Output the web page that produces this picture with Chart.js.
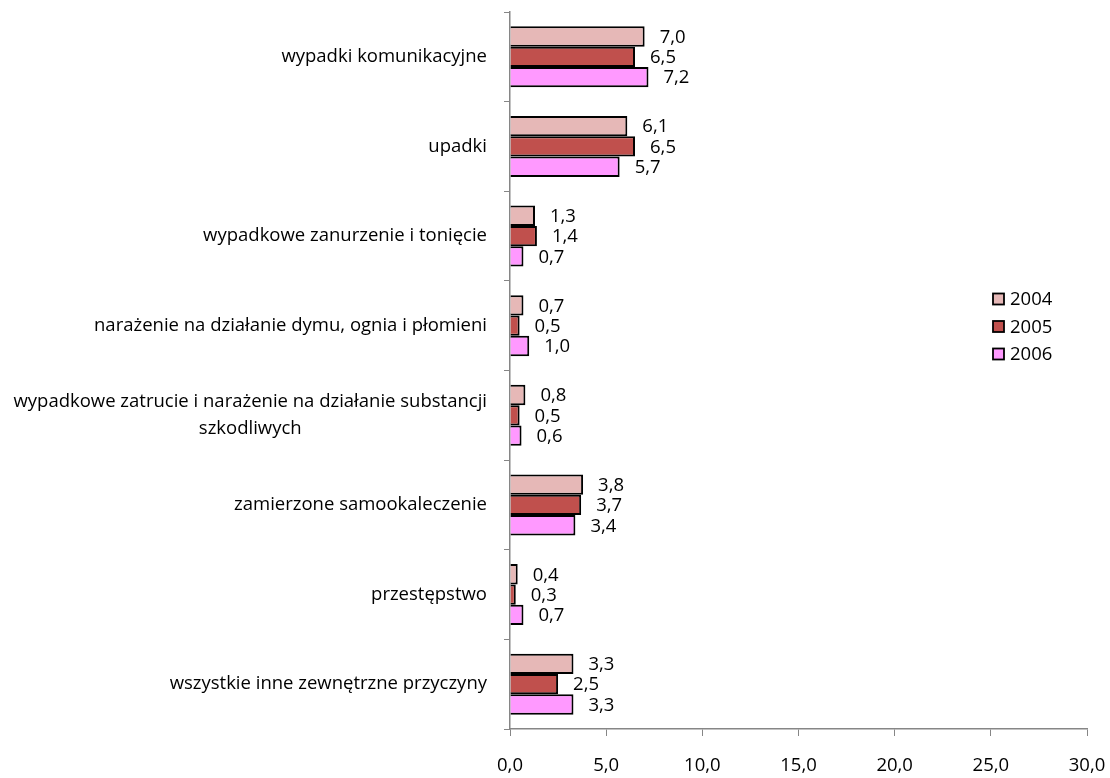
<!DOCTYPE html>
<html>
<head>
<meta charset="utf-8">
<script src="https://cdn.jsdelivr.net/npm/chart.js@4/dist/chart.umd.min.js"></script>
<style>
  body { margin: 0; background: #fff; }
  #wrap { width: 1110px; height: 778px; }
</style>
</head>
<body>
<div id="wrap"><canvas id="c" width="1110" height="778"></canvas></div>
<script>
// categories (top to bottom)
const causes = [
  "wypadki komunikacyjne",
  "upadki",
  "wypadkowe zanurzenie i tonięcie",
  "narażenie na działanie dymu, ognia i płomieni",
  ["wypadkowe zatrucie i narażenie na działanie substancji", "szkodliwych"],
  "zamierzone samookaleczenie",
  "przestępstwo",
  "wszystkie inne zewnętrzne przyczyny"
];

const years = ["2004", "2005", "2006"];
const v2004 = [7.0, 6.1, 1.3, 0.7, 0.8, 3.8, 0.4, 3.3];
const v2005 = [6.5, 6.5, 1.4, 0.5, 0.5, 3.7, 0.3, 2.5];
const v2006 = [7.2, 5.7, 0.7, 1.0, 0.6, 3.4, 0.7, 3.3];
const xTicks = [0, 5, 10, 15, 20, 25, 30];

const colors = ["#E6B8B7", "#C0504D", "#FF99FF"];
const FONT = "'Open Sans', sans-serif";
const FS = 18.5;
const fmt = v => v.toFixed(1).replace(".", ",");

// value labels next to the bar ends
const barLabels = {
  id: "barLabels",
  afterDatasetsDraw(chart) {
    const ctx = chart.ctx;
    ctx.save();
    ctx.font = FS + "px " + FONT;
    ctx.fillStyle = "#000";
    ctx.textAlign = "left";
    ctx.textBaseline = "middle";
    chart.data.datasets.forEach((ds, i) => {
      chart.getDatasetMeta(i).data.forEach((bar, j) => {
        ctx.fillText(fmt(ds.data[j]), bar.x + 15, bar.y + 1);
      });
    });
    ctx.restore();
  }
};

// category labels: right aligned block, lines centered inside it
const catLabels = {
  id: "catLabels",
  afterDraw(chart) {
    const ctx = chart.ctx;
    const sc = chart.scales.y;
    ctx.save();
    ctx.font = FS + "px " + FONT;
    ctx.fillStyle = "#000";
    ctx.textBaseline = "middle";
    ctx.textAlign = "center";
    const right = 487;
    chart.data.labels.forEach((lab, i) => {
      const lines = Array.isArray(lab) ? lab : [lab];
      const w = Math.max(...lines.map(l => ctx.measureText(l).width));
      const y0 = sc.getPixelForValue(i) - (lines.length - 1) * 27 / 2;
      lines.forEach((l, k) => ctx.fillText(l, right - w / 2, y0 + k * 27));
    });
    ctx.restore();
  }
};

// legend drawn at the Excel position
const sideLegend = {
  id: "sideLegend",
  afterDraw(chart) {
    const ctx = chart.ctx;
    ctx.save();
    ctx.font = FS + "px " + FONT;
    ctx.textBaseline = "middle";
    ctx.textAlign = "left";
    chart.data.datasets.forEach((ds, i) => {
      const y = 299 + i * 27.5;
      ctx.fillStyle = ds.backgroundColor;
      ctx.fillRect(993, y - 5.5, 11, 11);
      ctx.strokeStyle = "#000";
      ctx.lineWidth = 1.8;
      ctx.strokeRect(993, y - 5.5, 11, 11);
      ctx.fillStyle = "#000";
      ctx.fillText(ds.label, 1010, y + 1);
    });
    ctx.restore();
  }
};

new Chart(document.getElementById("c"), {
  type: "bar",
  data: {
    labels: causes,
    datasets: [
      { label: years[0], data: v2004, backgroundColor: colors[0] },
      { label: years[1], data: v2005, backgroundColor: colors[1] },
      { label: years[2], data: v2006, backgroundColor: colors[2] }
    ].map(d => Object.assign(d, {
      borderColor: "#000", borderWidth: 2, borderSkipped: "start",
      categoryPercentage: 0.68, barPercentage: 1
    }))
  },
  options: {
    indexAxis: "y",
    responsive: false,
    animation: false,
    layout: { padding: { top: 12, right: 23, left: 0, bottom: 0 } },
    plugins: { legend: { display: false }, tooltip: { enabled: false } },
    scales: {
      x: {
        min: 0, max: 30,
        afterBuildTicks: s => { s.ticks = xTicks.map(v => ({ value: v })); },
        afterFit: s => { s.height = 49; s.paddingLeft = 0; s.paddingRight = 0; },
        ticks: {
          callback: v => fmt(v),
          font: { family: FONT, size: FS },
          color: "#000",
          padding: 19,
          maxRotation: 0
        },
        grid: { drawOnChartArea: false, tickLength: 7, color: "#868686" },
        border: { color: "#868686", width: 1.5 }
      },
      y: {
        afterFit: s => { s.width = 510; s.paddingTop = 0; s.paddingBottom = 0; },
        ticks: { display: false },
        grid: { drawOnChartArea: false, offset: true, tickLength: 6, color: "#868686" },
        border: { color: "#868686", width: 1.5 }
      }
    }
  },
  plugins: [barLabels, catLabels, sideLegend]
});
</script>
</body>
</html>
